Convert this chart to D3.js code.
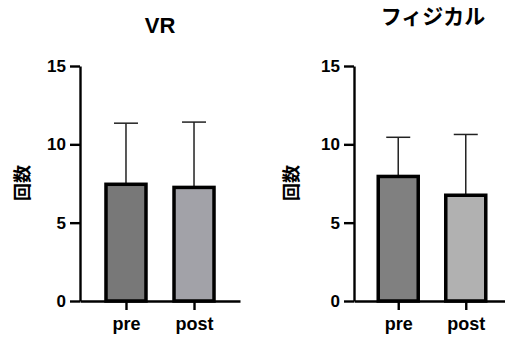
<!DOCTYPE html>
<html>
<head>
<meta charset="utf-8">
<script src="https://cdn.jsdelivr.net/npm/d3@7"></script>
<style>
  body { margin: 0; background: #fff; }
  svg { display: block; }
  .axis path, .axis line { stroke: #000; stroke-width: 2.4; }
  .axis text { font-family: "Liberation Sans", Arial, sans-serif; font-weight: bold; fill: #000; }
  .y-axis text { font-size: 17px; }
  .x-axis text { font-size: 18px; }
</style>
</head>
<body>
<div id="chart"></div>
<script>
// -- data --
var categories = ["pre", "post"];
var yTicks = [0, 5, 10, 15];

var vrTitle = "VR";
var vrMean = [7.45, 7.25];
var vrSD = [3.9, 4.17];

var physTitle = "フィジカル";
var physMean = [7.95, 6.75];
var physSD = [2.5, 3.88];

var yLabel = "回数";

var svg = d3.select("#chart")
  .append("svg")
  .attr("width", 505)
  .attr("height", 338);

var drawPanel = function (opt) {
  var y = d3.scaleLinear()
    .domain([0, 15])
    .range([301, 66]);

  var x = d3.scalePoint()
    .domain(categories)
    .range([opt.left, opt.right])
    .padding(opt.pad);

  var g = svg.append("g");

  // == axes ==
  g.append("g")
    .attr("class", "axis y-axis")
    .attr("transform", "translate(" + opt.left + ",0)")
    .call(d3.axisLeft(y).tickValues(yTicks).tickSize(10).tickSizeOuter(0).tickPadding(4));

  g.append("g")
    .attr("class", "axis x-axis")
    .attr("transform", "translate(0," + y(0) + ")")
    .call(d3.axisBottom(x).tickSize(9).tickSizeOuter(0).tickPadding(7));

  var data = categories.map(function (c, i) {
    return { cat: c, mean: opt.mean[i], sd: opt.sd[i], fill: opt.fills[i] };
  });

  var barW = 40, capW = 12;

  // error bars
  var eb = g.selectAll(".err").data(data).enter().append("g");
  eb.append("line")
    .attr("x1", function (d) { return x(d.cat); })
    .attr("x2", function (d) { return x(d.cat); })
    .attr("y1", function (d) { return y(d.mean); })
    .attr("y2", function (d) { return y(d.mean + d.sd); })
    .attr("stroke", "#222")
    .attr("stroke-width", 1.5);
  eb.append("line")
    .attr("x1", function (d) { return x(d.cat) - capW; })
    .attr("x2", function (d) { return x(d.cat) + capW; })
    .attr("y1", function (d) { return y(d.mean + d.sd); })
    .attr("y2", function (d) { return y(d.mean + d.sd); })
    .attr("stroke", "#222")
    .attr("stroke-width", 1.5);

  // bars
  g.selectAll(".bar").data(data).enter().append("rect")
    .attr("x", function (d) { return x(d.cat) - barW / 2; })
    .attr("y", function (d) { return y(d.mean); })
    .attr("width", barW)
    .attr("height", function (d) { return y(0) - y(d.mean); })
    .attr("fill", function (d) { return d.fill; })
    .attr("stroke", "#000")
    .attr("stroke-width", 3.5);

  // title
  g.append("text")
    .text(opt.title)
    .attr("x", opt.titleX)
    .attr("y", opt.titleY)
    .attr("text-anchor", "middle")
    .style("font-family", "'Liberation Sans', 'Noto Sans CJK JP', sans-serif")
    .style("font-weight", "bold")
    .style("font-size", opt.titleSize + "px");

  // y label
  g.append("text")
    .text(yLabel)
    .attr("transform", "translate(" + opt.labelX + ",183) rotate(-90)")
    .attr("dy", "0.35em")
    .attr("text-anchor", "middle")
    .style("font-family", "'Noto Sans CJK JP', sans-serif")
    .style("font-weight", "bold")
    .style("font-size", "18px");
};

drawPanel({
  left: 80, right: 240, pad: 0.676,
  mean: vrMean, sd: vrSD,
  fills: ["#787878", "#a2a2a8"],
  title: vrTitle, titleX: 160, titleY: 33, titleSize: 22,
  labelX: 23
});

drawPanel({
  left: 354, right: 510, pad: 0.655,
  mean: physMean, sd: physSD,
  fills: ["#808080", "#b1b1b1"],
  title: physTitle, titleX: 433, titleY: 24, titleSize: 21,
  labelX: 292
});
</script>
</body>
</html>
